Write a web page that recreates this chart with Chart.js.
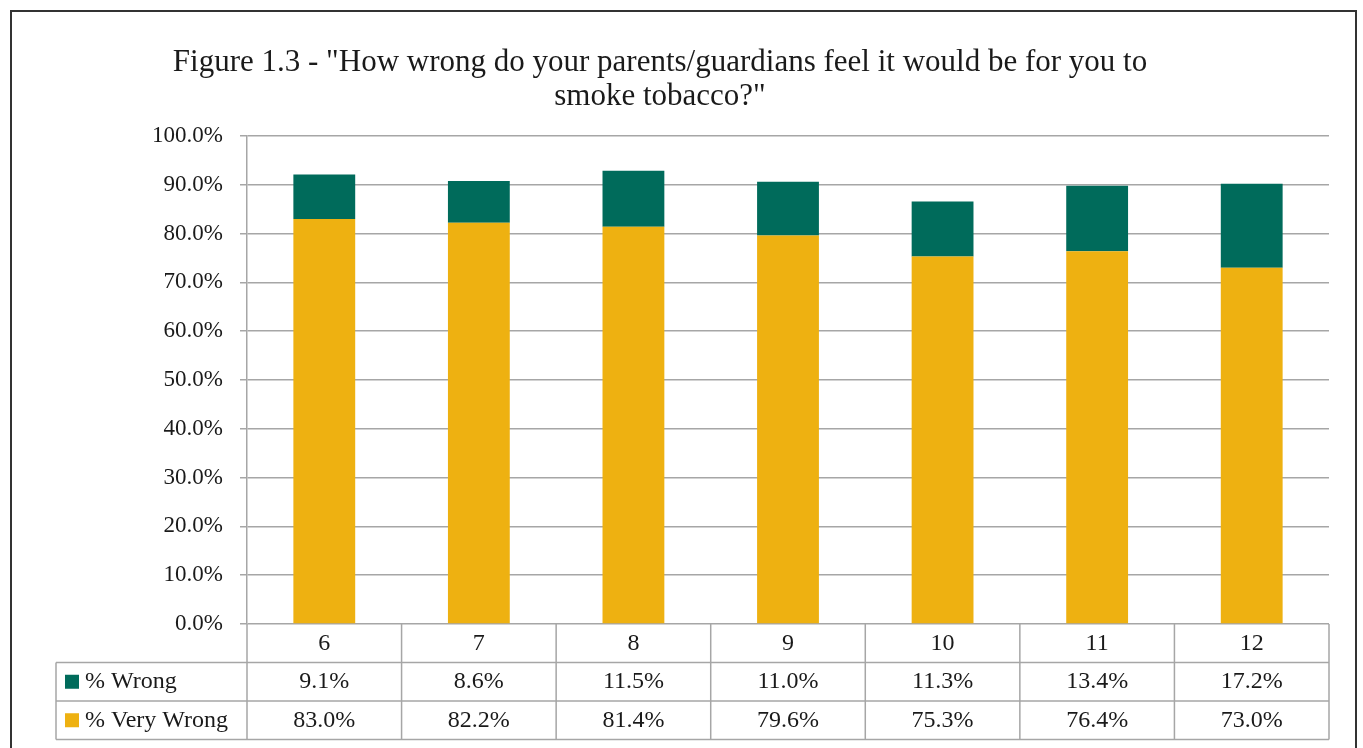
<!DOCTYPE html>
<html>
<head>
<meta charset="utf-8">
<script src="https://cdn.jsdelivr.net/npm/chart.js@4/dist/chart.umd.min.js"></script>
<style>
  html, body { margin: 0; padding: 0; background: #ffffff; }
  #wrap { width: 1363px; height: 748px; position: relative; }
</style>
</head>
<body>
<div id="wrap"><canvas id="myChart" width="1363" height="748"></canvas></div>
<script>
const FONT = "'Liberation Serif', 'Times New Roman', serif";
const TEXT = '#1a1a1a';
const GRID = '#a6a6a6';
const TITLE_LINES = ['Figure 1.3 - "How wrong do your parents/guardians feel it would be for you to', 'smoke tobacco?"'];

const grades = ['6', '7', '8', '9', '10', '11', '12'];
const veryWrong = [83.0, 82.2, 81.4, 79.6, 75.3, 76.4, 73.0];
const wrong = [9.1, 8.6, 11.5, 11.0, 11.3, 13.4, 17.2];
const seriesNames = ['% Wrong', '% Very Wrong'];
const seriesColors = ['#006b5b', '#eeb111'];

// frame, title and data table drawn around the chart area
const extras = {
    id: 'extras',
    afterDraw(chart) {
        var ctx = chart.ctx;
        var area = chart.chartArea;
        var xs = chart.scales.x;
        ctx.save();
        //--------------- Outer frame
        ctx.strokeStyle = '#333333';
        ctx.lineWidth = 2;
        ctx.strokeRect(11, 11, 1345, 760);
        //--------------- Title
        ctx.fillStyle = TEXT;
        ctx.font = '31px ' + FONT;
        ctx.textAlign = 'center';
        ctx.textBaseline = 'alphabetic';
        ctx.fillText(TITLE_LINES[0], 660, 71);
        ctx.fillText(TITLE_LINES[1], 660, 105);
        //--------------- Data table
        var rowH = 38.5;
        var top = area.bottom;
        var tableLeft = 56;
        var bounds = [area.left];
        for (var i = 0; i < grades.length - 1; i++) {
            bounds.push((xs.getPixelForValue(i) + xs.getPixelForValue(i + 1)) / 2);
        }
        bounds.push(area.right);
        ctx.strokeStyle = GRID;
        ctx.lineWidth = 1.5;
        ctx.beginPath();
        for (var b of bounds) {
            ctx.moveTo(b, top);
            ctx.lineTo(b, top + rowH * 3);
        }
        ctx.moveTo(tableLeft, top + rowH);
        ctx.lineTo(tableLeft, top + rowH * 3);
        for (var r = 1; r <= 3; r++) {
            ctx.moveTo(tableLeft, top + rowH * r);
            ctx.lineTo(area.right, top + rowH * r);
        }
        ctx.stroke();
        ctx.font = '24px ' + FONT;
        ctx.fillStyle = TEXT;
        ctx.textBaseline = 'middle';
        ctx.textAlign = 'center';
        var rows = [wrong, veryWrong];
        for (var i = 0; i < grades.length; i++) {
            var cx = xs.getPixelForValue(i);
            ctx.fillText(grades[i], cx, top + rowH * 0.5);
            ctx.fillText(rows[0][i].toFixed(1) + '%', cx, top + rowH * 1.5);
            ctx.fillText(rows[1][i].toFixed(1) + '%', cx, top + rowH * 2.5);
        }
        ctx.textAlign = 'left';
        for (var k = 0; k < 2; k++) {
            var cy = top + rowH * (1.5 + k);
            ctx.fillStyle = seriesColors[k];
            ctx.fillRect(65, cy - 7, 14, 14);
            ctx.fillStyle = TEXT;
            ctx.fillText(seriesNames[k], 85, cy);
        }
        ctx.restore();
    }
};

new Chart(document.getElementById('myChart'), {
    type: 'bar',
    data: {
        labels: grades,
        datasets: [{
            label: seriesNames[1],
            data: veryWrong,
            backgroundColor: seriesColors[1],
            categoryPercentage: 1,
            barPercentage: 0.4
        }, {
            label: seriesNames[0],
            data: wrong,
            backgroundColor: seriesColors[0],
            categoryPercentage: 1,
            barPercentage: 0.4
        }]
    },
    options: {
        responsive: false,
        animation: false,
        layout: { padding: { top: 136, bottom: 124, left: 0, right: 34 } },
        plugins: {
            legend: { display: false },
            title: { display: false },
            tooltip: { enabled: false }
        },
        scales: {
            x: {
                stacked: true,
                display: false
            },
            y: {
                stacked: true,
                min: 0,
                max: 100,
                afterFit: s => { s.width = 247; },
                ticks: {
                    stepSize: 10,
                    padding: 17,
                    color: TEXT,
                    font: { family: FONT, size: 23 },
                    callback: v => v.toFixed(1) + '%'
                },
                grid: { color: GRID, lineWidth: 1.5, tickLength: 7 },
                border: { display: true, color: GRID, width: 1.5 }
            }
        }
    },
    plugins: [extras]
});
</script>
</body>
</html>
